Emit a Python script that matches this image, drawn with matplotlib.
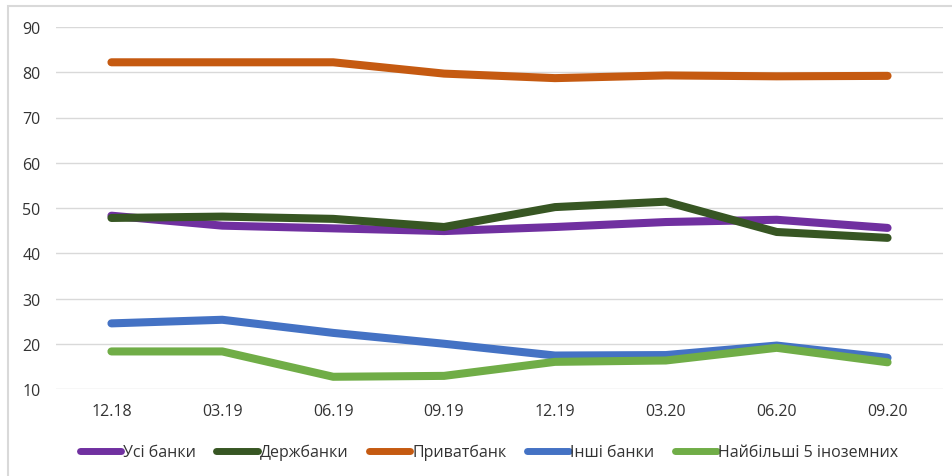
import matplotlib
matplotlib.use("Agg")
import matplotlib.pyplot as plt
from matplotlib.patches import Rectangle

categories = ["12.18", "03.19", "06.19", "09.19", "12.19", "03.20", "06.20", "09.20"]
usi_banky = [48.3, 46.1, 45.5, 44.9, 45.8, 46.9, 47.4, 45.6]
derzhbanky = [47.8, 48.1, 47.6, 45.8, 50.2, 51.4, 44.7, 43.4]
pryvatbank = [82.2, 82.2, 82.2, 79.7, 78.7, 79.3, 79.1, 79.2]
inshi_banky = [24.5, 25.3, 22.4, 20.0, 17.4, 17.5, 19.6, 16.9]
top5_foreign = [18.3, 18.3, 12.7, 12.9, 16.0, 16.3, 19.1, 15.9]

series_names = ["Усі банки", "Держбанки", "Приватбанк", "Інші банки", "Найбільші 5 іноземних"]
series_values = [usi_banky, derzhbanky, pryvatbank, inshi_banky, top5_foreign]
colors = ["#7030A0", "#375623", "#C55A11", "#4472C4", "#70AD47"]
yticks = [10, 20, 30, 40, 50, 60, 70, 80, 90]

plt.rcParams["font.family"] = ["Open Sans", "DejaVu Sans"]
text_color = "#333333"

fig = plt.figure(figsize=(9.52, 4.77), dpi=100)
fig.patches.append(Rectangle((8 / 952, -0.1), 1.2, 1 - 7 / 477 + 0.1,
                             transform=fig.transFigure, fill=False,
                             edgecolor="#D9D9D9", linewidth=1.5))

ax = fig.add_axes([56 / 952, 1 - 390 / 477, (943 - 56) / 952, (390 - 28) / 477])
x = list(range(len(categories)))
lines = []
for name, vals, c in zip(series_names, series_values, colors):
    ln, = ax.plot(x, vals, color=c, linewidth=5.8, solid_capstyle="round",
                  solid_joinstyle="round", label=name, zorder=3)
    lines.append(ln)

ax.set_xlim(-0.5, len(categories) - 0.5)
ax.set_ylim(10, 90)
ax.set_yticks(yticks)
ax.set_xticks(x)
ax.set_xticklabels(categories)
ax.grid(axis="y", color="#D9D9D9", linewidth=1)
ax.set_axisbelow(True)
for s in ax.spines.values():
    s.set_visible(False)
ax.tick_params(axis="both", length=0, labelsize=11.5, colors=text_color)
ax.tick_params(axis="x", pad=10)
ax.tick_params(axis="y", pad=11)

leg = fig.legend(handles=lines, labels=series_names, loc="center",
                 bbox_to_anchor=(489 / 952, 1 - 453 / 477), ncol=5, frameon=False,
                 fontsize=11.5, handlelength=2.6, handletextpad=0.1,
                 columnspacing=1.3, labelcolor=text_color)
for h in leg.get_lines():
    h.set_linewidth(5)
    h.set_solid_capstyle("round")

fig.savefig("out.png", dpi=100)
